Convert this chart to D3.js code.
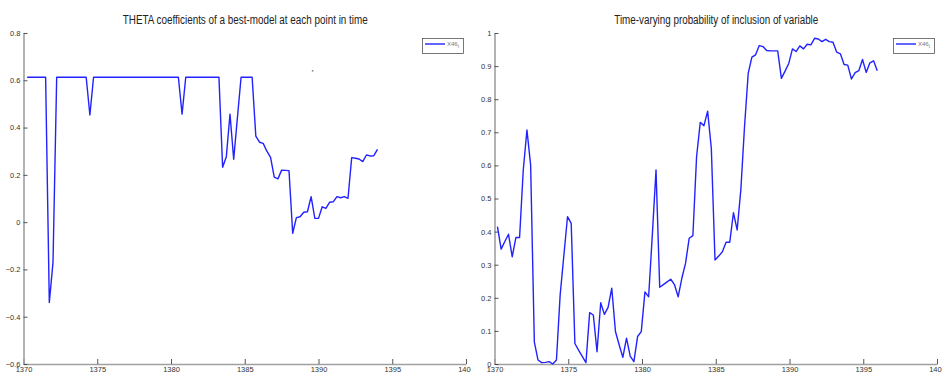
<!DOCTYPE html>
<html>
<head>
<meta charset="utf-8">
<script src="https://cdn.jsdelivr.net/npm/d3@7"></script>
<style>
	body { margin: 0; background: #fff; }
	.panel { position: absolute; top: 0; }
	.panel svg { display: block; overflow: hidden; }
</style>
</head>
<body>
<div id="thetaChart" class="panel" style="left:0px"></div>
<div id="probChart" class="panel" style="left:471px"></div>
<script>
// quarterly series, first point year and step
var quarterStep = 0.25;

var thetaStart = 1370.25;
var thetaValues = [
	0.613, 0.613, 0.613, 0.613, 0.613, 0.613, -0.34, -0.17, 0.613, 0.613,
	0.613, 0.613, 0.613, 0.613, 0.613, 0.613, 0.613, 0.453, 0.613, 0.613,
	0.613, 0.613, 0.613, 0.613, 0.613, 0.613, 0.613, 0.613, 0.613, 0.613,
	0.613, 0.613, 0.613, 0.613, 0.613, 0.613, 0.613, 0.613, 0.613, 0.613,
	0.613, 0.613, 0.457, 0.613, 0.613, 0.613, 0.613, 0.613, 0.613, 0.613,
	0.613, 0.613, 0.613, 0.232, 0.277, 0.457, 0.266, 0.44, 0.613, 0.613,
	0.613, 0.613, 0.364, 0.338, 0.333, 0.30, 0.274, 0.19, 0.183, 0.220,
	0.219, 0.218, -0.047, 0.019, 0.023, 0.042, 0.044, 0.108, 0.016, 0.016,
	0.065, 0.058, 0.084, 0.086, 0.108, 0.103, 0.108, 0.101, 0.273, 0.270,
	0.267, 0.256, 0.284, 0.280, 0.281, 0.308
];

var probStart = 1370.2;
var probValues = [
	0.415, 0.347, 0.370, 0.392, 0.324, 0.382, 0.382, 0.586, 0.707, 0.601,
	0.067, 0.012, 0.004, 0.005, 0.007, 0.000, 0.012, 0.208, 0.327, 0.445,
	0.425, 0.062, 0.042, 0.023, 0.004, 0.155, 0.148, 0.037, 0.185, 0.150,
	0.171, 0.229, 0.098, 0.058, 0.020, 0.078, 0.024, 0.007, 0.083, 0.098,
	0.218, 0.203, 0.390, 0.586, 0.232, 0.240, 0.248, 0.256, 0.240, 0.203,
	0.259, 0.304, 0.380, 0.388, 0.626, 0.730, 0.720, 0.764, 0.651, 0.314,
	0.326, 0.339, 0.368, 0.368, 0.457, 0.405, 0.526, 0.717, 0.878, 0.927,
	0.934, 0.962, 0.959, 0.947, 0.946, 0.946, 0.946, 0.863, 0.885, 0.908,
	0.952, 0.944, 0.961, 0.952, 0.966, 0.964, 0.984, 0.982, 0.974, 0.981,
	0.974, 0.972, 0.942, 0.937, 0.905, 0.903, 0.861, 0.880, 0.886, 0.920,
	0.881, 0.910, 0.916, 0.886
];

var yearTicks = [1370, 1375, 1380, 1385, 1390, 1395, 1400];
var thetaTicks = [0.8, 0.6, 0.4, 0.2, 0, -0.2, -0.4, -0.6];
var probTicks = [0, 0.1, 0.2, 0.3, 0.4, 0.5, 0.6, 0.7, 0.8, 0.9, 1];

// small stray speck on the left picture
var thetaSpeck = [[1389.6, 0.64]];

var seriesName = 'X46';
var seriesSub = 't';

var chartSize = { width: 471, height: 374 };
var chartPadding = { left: 23.5, right: 5, top: 33, bottom: 10 };
var lineColor = '#2222ff';

function toPoints(start, values) {
	return values.map(function (v, i) {
		return { year: start + i * quarterStep, value: v };
	});
}

function drawChart(id, cfg) {
	let svg = d3.select(id)
		.append('svg')
		.attr('width', chartSize.width)
		.attr('height', chartSize.height)
		.attr('font-family', 'Liberation Sans, Arial, sans-serif');

	let x = d3.scaleLinear()
		.domain([1370, 1400])
		.range([chartPadding.left, chartSize.width - chartPadding.right]);
	let y = d3.scaleLinear()
		.domain(cfg.yDomain)
		.range([chartSize.height - chartPadding.bottom, chartPadding.top]);

	// axes, ticks pointing inward like the original
	let xAxis = svg.append('g')
		.attr('transform', 'translate(0,' + y.range()[0] + ')')
		.call(d3.axisBottom(x).tickValues(yearTicks).tickFormat(d3.format('d'))
			.tickSize(-5).tickSizeOuter(0).tickPadding(3));
	let yAxis = svg.append('g')
		.attr('transform', 'translate(' + x.range()[0] + ',0)')
		.call(d3.axisLeft(y).tickValues(cfg.yTicks).tickFormat(d3.format(''))
			.tickSize(-4).tickSizeOuter(0).tickPadding(3));

	[xAxis, yAxis].forEach(function (a) {
		a.select('.domain').attr('stroke', '#a0a0a0').attr('stroke-width', 1.6);
		a.selectAll('.tick line').attr('stroke', '#444').attr('stroke-width', 0.9);
		a.selectAll('.tick text').attr('fill', '#333').attr('font-size', 7.5);
	});

	// title
	svg.append('text')
		.attr('x', (x.range()[0] + x.range()[1]) / 2 + 0.5)
		.attr('y', 24)
		.attr('text-anchor', 'middle')
		.attr('font-size', 12)
		.attr('fill', '#222')
		.attr('textLength', cfg.titleWidth)
		.attr('lengthAdjust', 'spacingAndGlyphs')
		.text(cfg.title);

	// the series
	let line = d3.line()
		.x(function (d) { return x(d.year); })
		.y(function (d) { return y(d.value); });

	svg.append('path')
		.datum(cfg.points)
		.attr('fill', 'none')
		.attr('stroke', lineColor)
		.attr('stroke-width', 1.4)
		.attr('stroke-linejoin', 'round')
		.attr('d', line);

	if (cfg.specks) {
		svg.selectAll('.speck')
			.data(cfg.specks)
			.enter().append('rect')
			.attr('class', 'speck')
			.attr('x', function (d) { return x(d[0]) - 0.75; })
			.attr('y', function (d) { return y(d[1]) - 0.75; })
			.attr('width', 1.5)
			.attr('height', 1.5)
			.attr('fill', '#8a7a6a');
	}

	// legend
	let legend = svg.append('g')
		.attr('transform', 'translate(422,38)');
	legend.append('rect')
		.attr('x', 0.5)
		.attr('y', 0.5)
		.attr('width', 41)
		.attr('height', 15)
		.attr('fill', '#fff')
		.attr('stroke', '#555')
		.attr('stroke-width', 0.8);
	legend.append('line')
		.attr('x1', 3)
		.attr('x2', 23)
		.attr('y1', 6)
		.attr('y2', 6)
		.attr('stroke', lineColor)
		.attr('stroke-width', 1.4);
	let lt = legend.append('text')
		.attr('x', 25)
		.attr('y', 8)
		.attr('font-size', 6)
		.attr('fill', '#777');
	lt.append('tspan').text(seriesName);
	lt.append('tspan').attr('dy', 1.5).attr('font-size', 4.5).text(seriesSub);
}

drawChart('#thetaChart', {
	title: 'THETA coefficients of a best-model at each point in time',
	titleWidth: 245,
	yDomain: [-0.6, 0.8],
	yTicks: thetaTicks,
	points: toPoints(thetaStart, thetaValues),
	specks: thetaSpeck
});

drawChart('#probChart', {
	title: 'Time-varying probability of inclusion of variable',
	titleWidth: 204,
	yDomain: [0, 1],
	yTicks: probTicks,
	points: toPoints(probStart, probValues)
});
</script>
</body>
</html>
